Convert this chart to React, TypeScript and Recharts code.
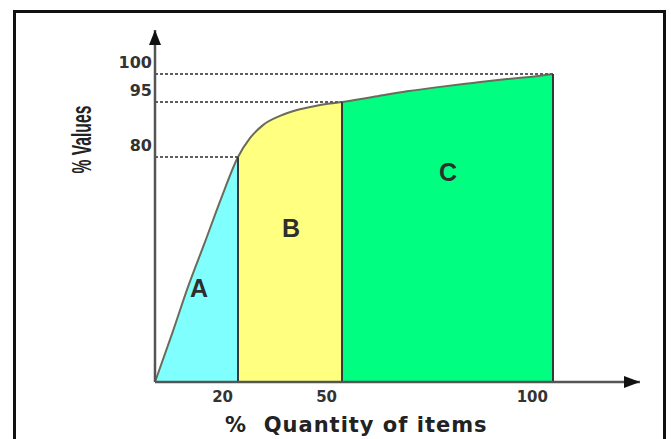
import React from "react";
import { ComposedChart, Area, Line, XAxis, YAxis, ReferenceLine, ReferenceDot } from "recharts";

// cumulative curve
const CURVE_X = [0, 4.1, 7.95, 12.05, 15.9, 20, 23.5, 27.2, 32.1, 37.0, 41.6, 46.5, 50, 57.3, 65.4, 73.2, 81.0, 89.1, 96.9, 100];
const CURVE_Y = [0, 17.1, 33.8, 49.8, 65.1, 80, 85.2, 88.7, 91.2, 92.8, 93.8, 94.6, 95, 95.9, 96.9, 97.7, 98.4, 99.1, 99.7, 100];

const CLASS_NAMES = ["A", "B", "C"];
const CLASS_EDGES = [0, 20, 50, 100];
const CLASS_SHARE = [80, 95, 100];
const CLASS_COLORS = ["#80ffff", "#ffff80", "#00ff80"];
// where the class letters sit (x %, y %)
const LETTER_X = [10.6, 35.3, 75.1];
const LETTER_Y = [33.4, 54.8, 74.7];

const X_TICKS = [20, 50, 100];
const Y_TICKS = [80, 95, 100];

// the drawing's axes aren't linear, so the scale is broken at the class edges
const X_KNOTS = [0, 20, 50, 100, 120];
const X_STOPS = [0, 83, 187, 398, 485];
const Y_KNOTS = [0, 80, 95, 100, 115];
const Y_STOPS = [0, 225, 280, 308, 352];

function brokenScale(knots: number[], stops: number[]): any {
  let dom = [knots[0], knots[knots.length - 1]];
  let rng = [0, 1];
  const total = stops[stops.length - 1];
  const s: any = (v: number) => {
    let i = 0;
    while (i < knots.length - 2 && v > knots[i + 1]) i++;
    const t = (v - knots[i]) / (knots[i + 1] - knots[i]);
    const f = (stops[i] + t * (stops[i + 1] - stops[i])) / total;
    return rng[0] + f * (rng[1] - rng[0]);
  };
  s.domain = (d?: number[]) => {
    if (!d) return dom;
    dom = d;
    return s;
  };
  s.range = (r?: number[]) => {
    if (!r) return rng;
    rng = r;
    return s;
  };
  s.copy = () => brokenScale(knots, stops).domain(dom).range(rng);
  s.ticks = () => knots;
  return s;
}

const xScale = brokenScale(X_KNOTS, X_STOPS);
const yScale = brokenScale(Y_KNOTS, Y_STOPS);

const tickFont = "'DejaVu Sans', Verdana, sans-serif";

const XTick = ({ x, y, payload }: any) => (
  <text x={x - 5} y={y} dy="0.71em" textAnchor="end" fontFamily={tickFont} fontWeight="bold" fontSize={15} fill="#333">
    {payload.value}
  </text>
);

const YTick = ({ x, y, payload }: any) => (
  <text x={x} y={y - 12} dy="0.355em" textAnchor="end" fontFamily={tickFont} fontWeight="bold" fontSize={16} fill="#333">
    {payload.value}
  </text>
);

const rows = CURVE_X.map((x, i) => {
  const row: any = { x, value: CURVE_Y[i] };
  CLASS_NAMES.forEach((name, k) => {
    row[name] = x >= CLASS_EDGES[k] && x <= CLASS_EDGES[k + 1] ? CURVE_Y[i] : null;
  });
  return row;
});

export default function App() {
  return (
    <div style={{ position: "absolute", left: 0, top: 0, width: 671, height: 439, overflow: "hidden", background: "#fff" }}>
      <div
        style={{
          position: "absolute",
          left: 13,
          top: 10,
          width: 653,
          height: 470,
          border: "3px solid #111",
          boxSizing: "border-box",
        }}
      />
      <div style={{ position: "absolute", left: 0, top: 0 }}>
        <ComposedChart width={671} height={439} data={rows} margin={{ top: 30, right: 31, bottom: 27, left: 0 }}>
          <XAxis
            dataKey="x"
            type="number"
            domain={[0, 120]}
            scale={xScale}
            ticks={X_TICKS}
            tick={<XTick />}
            height={30}
            tickSize={0}
            tickMargin={9}
            tickLine={false}
            axisLine={{ stroke: "#555", strokeWidth: 2.5 }}
          />
          <YAxis
            type="number"
            domain={[0, 115]}
            scale={yScale}
            ticks={Y_TICKS}
            tick={<YTick />}
            width={155}
            tickSize={0}
            tickMargin={3}
            tickLine={false}
            axisLine={{ stroke: "#555", strokeWidth: 2.5 }}
          />
          {CLASS_NAMES.map((name, k) => (
            <Area
              key={name}
              dataKey={name}
              type="monotone"
              fill={CLASS_COLORS[k]}
              fillOpacity={1}
              stroke="none"
              connectNulls={false}
              isAnimationActive={false}
            />
          ))}
          <Line dataKey="value" type="monotone" stroke="#6b6b5c" strokeWidth={2} dot={false} isAnimationActive={false} />
          {Y_TICKS.map((v, k) => (
            <ReferenceLine
              key={"h" + v}
              segment={[{ x: 0, y: v }, { x: CLASS_EDGES[k + 1], y: v }]}
              stroke="#5e5e5e"
              strokeWidth={2}
              strokeDasharray="3 2"
            />
          ))}
          {CLASS_SHARE.map((v, k) => (
            <ReferenceLine
              key={"v" + k}
              segment={[{ x: CLASS_EDGES[k + 1], y: 0 }, { x: CLASS_EDGES[k + 1], y: v }]}
              stroke="#383838"
              strokeWidth={2}
            />
          ))}
          {CLASS_NAMES.map((name, k) => (
            <ReferenceDot
              key={"l" + name}
              x={LETTER_X[k]}
              y={LETTER_Y[k]}
              r={0}
              shape={(p: any) => (
                <text
                  x={p.cx}
                  y={p.cy}
                  dy="0.36em"
                  textAnchor="middle"
                  fontFamily="'Liberation Sans', Arial, sans-serif"
                  fontWeight="bold"
                  fontSize={25}
                  fill="#2e2e2e"
                >
                  {name}
                </text>
              )}
            />
          ))}
          <ReferenceDot
            x={120}
            y={0}
            r={0}
            shape={(p: any) => (
              <path d={`M${p.cx},${p.cy} L${p.cx - 16},${p.cy - 6} L${p.cx - 16},${p.cy + 6} Z`} fill="#111" />
            )}
          />
          <ReferenceDot
            x={0}
            y={115}
            r={0}
            shape={(p: any) => (
              <path d={`M${p.cx},${p.cy} L${p.cx - 6},${p.cy + 15} L${p.cx + 6},${p.cy + 15} Z`} fill="#111" />
            )}
          />
        </ComposedChart>
      </div>
      <div
        style={{
          position: "absolute",
          left: 22,
          top: 124,
          width: 120,
          height: 32,
          lineHeight: "32px",
          textAlign: "center",
          transform: "rotate(-90deg) scaleX(0.56)",
          fontFamily: "'Liberation Sans', Arial, sans-serif",
          fontWeight: "bold",
          fontSize: 28,
          color: "#222",
          whiteSpace: "pre",
        }}
      >
        % Values
      </div>
      <div
        style={{
          position: "absolute",
          left: 225,
          top: 413,
          lineHeight: "24px",
          fontFamily: tickFont,
          fontWeight: "bold",
          fontSize: 21,
          letterSpacing: 1,
          color: "#222",
          whiteSpace: "pre",
        }}
      >
        {"%  Quantity of items"}
      </div>
    </div>
  );
}
